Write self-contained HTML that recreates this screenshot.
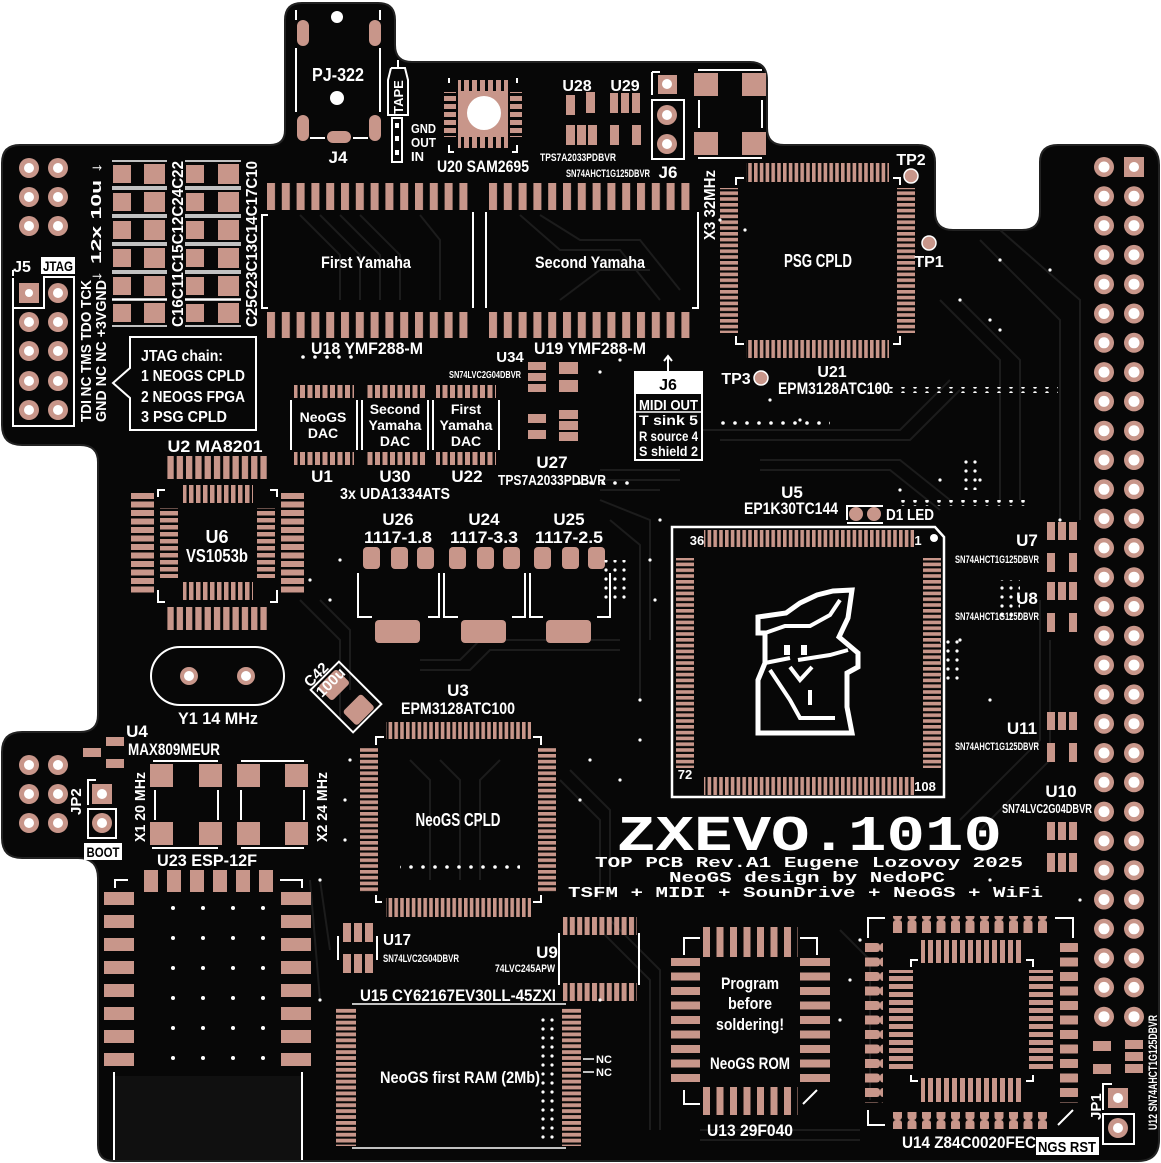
<!DOCTYPE html>
<html><head><meta charset="utf-8"><style>
html,body{margin:0;padding:0;background:#fff;}
svg{display:block;}
.t{fill:#fff;font-family:"Liberation Sans Narrow","Liberation Sans",sans-serif;font-weight:bold;}
.k{fill:#000;font-family:"Liberation Sans Narrow","Liberation Sans",sans-serif;font-weight:bold;}
.m{fill:#fff;font-family:"Liberation Mono","DejaVu Sans Mono",monospace;font-weight:bold;}
.cu{fill:#c8968a;}
.sl{stroke:#fff;stroke-width:2;fill:none;}
.tr{stroke:#1c1c1c;stroke-width:2;fill:none;}
</style></head><body>
<svg width="1161" height="1163" viewBox="0 0 1161 1163" xmlns="http://www.w3.org/2000/svg">
<defs>
<pattern id="vY" width="14.8" height="40" patternUnits="userSpaceOnUse" x="267"><rect width="8" height="40" fill="#c8968a"/></pattern>
<pattern id="vQ" width="5.8" height="40" patternUnits="userSpaceOnUse"><rect width="3.6" height="40" fill="#c8968a"/></pattern>
<pattern id="hQ" width="40" height="5.8" patternUnits="userSpaceOnUse"><rect width="40" height="3.6" fill="#c8968a"/></pattern>
<pattern id="vD" width="7.5" height="40" patternUnits="userSpaceOnUse"><rect width="5" height="40" fill="#c8968a"/></pattern>
<pattern id="vM" width="9.3" height="40" patternUnits="userSpaceOnUse"><rect width="6.3" height="40" fill="#c8968a"/></pattern>
<pattern id="vV" width="7" height="40" patternUnits="userSpaceOnUse"><rect width="4.5" height="40" fill="#c8968a"/></pattern>
<pattern id="hV" width="40" height="7" patternUnits="userSpaceOnUse"><rect width="40" height="4.5" fill="#c8968a"/></pattern>
<pattern id="hO" width="40" height="8.5" patternUnits="userSpaceOnUse"><rect width="40" height="6" fill="#c8968a"/></pattern>
<pattern id="hR" width="40" height="5.9" patternUnits="userSpaceOnUse"><rect width="40" height="3.8" fill="#c8968a"/></pattern>
<pattern id="vU" width="7.4" height="40" patternUnits="userSpaceOnUse"><rect width="5" height="40" fill="#c8968a"/></pattern>
<pattern id="vP" width="13.5" height="40" patternUnits="userSpaceOnUse" x="703"><rect width="7" height="40" fill="#c8968a"/></pattern>
<pattern id="hP" width="40" height="14.5" patternUnits="userSpaceOnUse" y="958"><rect width="40" height="8" fill="#c8968a"/></pattern>
<pattern id="vZ" width="14.5" height="40" patternUnits="userSpaceOnUse" x="893"><rect width="9" height="40" rx="3" fill="#c8968a"/></pattern>
<pattern id="hZ" width="40" height="14.5" patternUnits="userSpaceOnUse" y="943"><rect width="40" height="9" rx="3" fill="#c8968a"/></pattern>
<pattern id="vI" width="8" height="40" patternUnits="userSpaceOnUse"><rect width="5" height="40" fill="#c8968a"/></pattern>
<pattern id="hI" width="40" height="8" patternUnits="userSpaceOnUse"><rect width="40" height="5" fill="#c8968a"/></pattern>
<pattern id="grid" width="30" height="30" patternUnits="userSpaceOnUse" x="140" y="905"><circle cx="3" cy="3" r="2" fill="#fff"/></pattern>
<pattern id="dotH" width="12" height="6" patternUnits="userSpaceOnUse"><circle cx="3" cy="3" r="1.8" fill="#fff"/></pattern>
<pattern id="dotD" width="9" height="9" patternUnits="userSpaceOnUse"><circle cx="3" cy="3" r="1.6" fill="#fff"/></pattern>
</defs>

<!-- board -->
<path d="M2,163 Q2,145 20,145 L270,145 Q285,145 285,130 L285,20 Q285,3 302,3 L378,3 Q395,3 395,20 L395,45 Q395,62 412,62 L750,62 Q767,62 767,80 L767,128 Q767,145 784,145 L918,145 Q935,145 935,162 L935,212 Q935,230 953,230 L1022,230 Q1040,230 1040,212 L1040,162 Q1040,145 1058,145 L1140,145 Q1159,145 1159,165 L1159,1140 Q1159,1161 1138,1161 L114,1161 Q98,1161 98,1145 L98,878 Q98,858 78,858 L22,858 Q2,858 2,838 L2,752 Q2,732 22,732 L80,732 Q98,732 98,715 L98,462 Q98,445 80,445 L22,445 Q2,445 2,425 Z" fill="#070707" stroke="#222" stroke-width="2"/>

<!-- trace texture -->
<g class="tr">
<path d="M300,215 L340,255 L340,300 M320,215 L360,255 L360,300 M340,215 L380,255 L380,300 M360,215 L400,255 L400,300 M420,215 L440,240 L440,300"/>
<path d="M520,215 L560,250 L620,250 L660,300 M540,215 L580,240 L640,240 L680,290 M560,300 L600,270 L650,270"/>
<path d="M940,300 L1000,360 L1000,500 M960,300 L1020,360 L1020,500 M980,240 L1060,320 L1060,520 M1000,230 L1080,300 L1080,520"/>
<path d="M600,470 L680,470 M600,480 L680,480 M600,490 L660,490 M600,500 L650,520 L650,640 M610,520 L640,545 L640,700"/>
<path d="M300,600 L340,640 L340,720 M320,600 L350,630 L350,690 M420,660 L460,660 L480,640 L620,640 M420,670 L470,670 L490,650 L620,650"/>
<path d="M560,780 L600,820 L600,900 M570,770 L610,810 L610,900 M410,760 L430,780 L430,880 M440,760 L460,780 L460,880 M500,760 L480,780 L480,880"/>
<path d="M600,930 L650,980 L650,1130 M610,920 L660,970 L660,1130 M840,930 L870,960 L870,1100 M700,1130 L860,1130 M700,1140 L860,1140"/>
<path d="M960,820 L1040,740 L1040,600 M980,830 L1050,760 L1050,640 M950,380 L900,430 L660,430 M960,390 L910,440 L720,440"/>
<path d="M320,880 L330,950 M310,880 L320,1000 M760,460 L900,460 L950,500 M760,470 L890,470 L940,510"/>
</g>

<!-- ===== J4 jack ===== -->
<rect x="297" y="20" width="12" height="26" rx="6" class="cu"/>
<rect x="369" y="20" width="12" height="26" rx="6" class="cu"/>
<rect x="297" y="115" width="12" height="26" rx="6" class="cu"/>
<rect x="369" y="115" width="12" height="26" rx="6" class="cu"/>
<rect x="327" y="131" width="24" height="12" rx="6" class="cu"/>
<circle cx="337" cy="17" r="6" fill="#fff"/>
<circle cx="337" cy="98" r="7" fill="#fff"/>
<path class="sl" d="M296,10 L296,20 M380,10 L380,20 M296,48 L296,112 M380,48 L380,112 M310,138 L325,138 M353,138 L368,138"/>
<text class="t" x="338" y="81" font-size="18" text-anchor="middle" textLength="52" lengthAdjust="spacingAndGlyphs">PJ-322</text>
<text class="t" x="338" y="163" font-size="17" text-anchor="middle">J4</text>
<!-- TAPE -->
<path class="sl" d="M398,60 L398,68 M391,68 L405,68 L408,80 L408,115 L388,115 L388,80 L391,68"/>
<text class="t" x="0" y="0" font-size="13" text-anchor="middle" transform="translate(403,97) rotate(-90)">TAPE</text>
<rect x="392" y="118" width="10" height="44" fill="none" stroke="#fff" stroke-width="2"/>
<rect x="395" y="123" width="4" height="5" fill="#fff"/><rect x="395" y="136" width="4" height="5" fill="#fff"/><rect x="395" y="150" width="4" height="5" fill="#fff"/>
<text class="t" x="411" y="133" font-size="13" textLength="25" lengthAdjust="spacingAndGlyphs">GND</text>
<text class="t" x="411" y="147" font-size="13" textLength="25" lengthAdjust="spacingAndGlyphs">OUT</text>
<text class="t" x="411" y="161" font-size="13">IN</text>

<!-- U20 SAM2695 -->
<rect x="458" y="80" width="50" height="12" fill="url(#vI)"/>
<rect x="458" y="136" width="50" height="12" fill="url(#vI)"/>
<rect x="444" y="92" width="12" height="45" fill="url(#hI)"/>
<rect x="510" y="92" width="12" height="45" fill="url(#hI)"/>
<rect x="458" y="91" width="50" height="46" class="cu"/>
<circle cx="484" cy="113" r="17" fill="#fff"/>
<path class="sl" d="M449,78 L449,83 M517,78 L517,83 M449,145 L449,152 L454,152 M517,145 L517,152 L512,152"/>
<text class="t" x="483" y="172" font-size="17" text-anchor="middle" textLength="92" lengthAdjust="spacingAndGlyphs">U20 SAM2695</text>

<!-- U28 U29 -->
<text class="t" x="577" y="91" font-size="16" text-anchor="middle">U28</text>
<text class="t" x="625" y="91" font-size="16" text-anchor="middle">U29</text>
<rect x="566" y="95" width="9" height="20" class="cu"/><rect x="586" y="92" width="9" height="21" class="cu"/>
<rect x="566" y="125" width="9" height="20" class="cu"/><rect x="577" y="125" width="9" height="20" class="cu"/><rect x="588" y="125" width="9" height="20" class="cu"/>
<rect x="610" y="93" width="8" height="20" class="cu"/><rect x="621" y="93" width="8" height="20" class="cu"/><rect x="632" y="93" width="8" height="20" class="cu"/>
<rect x="610" y="125" width="9" height="20" class="cu"/><rect x="632" y="125" width="9" height="20" class="cu"/>
<text class="t" x="578" y="161" font-size="11" text-anchor="middle" textLength="76" lengthAdjust="spacingAndGlyphs">TPS7A2033PDBVR</text>
<text class="t" x="608" y="177" font-size="11" text-anchor="middle" textLength="84" lengthAdjust="spacingAndGlyphs">SN74AHCT1G125DBVR</text>

<!-- J6 pins -->
<rect x="658" y="75" width="19" height="19" class="cu"/><circle cx="667" cy="84" r="5" fill="#fff"/>
<circle cx="667" cy="115" r="10" class="cu"/><circle cx="667" cy="115" r="5" fill="#fff"/>
<circle cx="667" cy="144" r="10" class="cu"/><circle cx="667" cy="144" r="5" fill="#fff"/>
<rect x="652" y="100" width="32" height="59" class="sl"/>
<path class="sl" d="M652,72 L652,95 M652,72 L660,72"/>
<text class="t" x="668" y="178" font-size="17" text-anchor="middle">J6</text>
<!-- crystal-like -->
<rect x="694" y="73" width="24" height="23" class="cu"/><rect x="742" y="73" width="24" height="23" class="cu"/>
<rect x="694" y="132" width="24" height="23" class="cu"/><rect x="742" y="132" width="24" height="23" class="cu"/>
<path class="sl" d="M698,70 L762,70 M698,158 L762,158 M699,100 L699,128 M762,100 L762,128"/>

<!-- left header top -->
<g>
<circle cx="29" cy="168" r="10" class="cu"/><circle cx="58" cy="168" r="10" class="cu"/>
<circle cx="29" cy="197" r="10" class="cu"/><circle cx="58" cy="197" r="10" class="cu"/>
<circle cx="29" cy="226" r="10" class="cu"/><circle cx="58" cy="226" r="10" class="cu"/>
<rect x="19" y="283" width="20" height="20" class="cu"/><circle cx="58" cy="293" r="10" class="cu"/>
<circle cx="29" cy="322" r="10" class="cu"/><circle cx="58" cy="322" r="10" class="cu"/>
<circle cx="29" cy="351" r="10" class="cu"/><circle cx="58" cy="351" r="10" class="cu"/>
<circle cx="29" cy="381" r="10" class="cu"/><circle cx="58" cy="381" r="10" class="cu"/>
<circle cx="29" cy="410" r="10" class="cu"/><circle cx="58" cy="410" r="10" class="cu"/>
</g>
<g fill="#fff">
<circle cx="29" cy="168" r="5"/><circle cx="58" cy="168" r="5"/><circle cx="29" cy="197" r="5"/><circle cx="58" cy="197" r="5"/><circle cx="29" cy="226" r="5"/><circle cx="58" cy="226" r="5"/>
<circle cx="29" cy="293" r="4"/><circle cx="58" cy="293" r="5"/><circle cx="29" cy="322" r="5"/><circle cx="58" cy="322" r="5"/><circle cx="29" cy="351" r="5"/><circle cx="58" cy="351" r="5"/><circle cx="29" cy="381" r="5"/><circle cx="58" cy="381" r="5"/><circle cx="29" cy="410" r="5"/><circle cx="58" cy="410" r="5"/>
</g>
<path class="sl" d="M13,278 L13,426 L74,426 L74,277 L44,277 L44,308 L13,308"/>
<path class="sl" d="M13,276 L13,270"/>
<text class="t" x="22" y="272" font-size="16" text-anchor="middle">J5</text>
<rect x="41" y="257" width="34" height="17" fill="#fff"/>
<text class="k" x="58" y="271" font-size="14" text-anchor="middle" textLength="30" lengthAdjust="spacingAndGlyphs">JTAG</text>
<text class="t" font-size="15" transform="translate(91,422) rotate(-90)" textLength="142" lengthAdjust="spacingAndGlyphs">TDI  NC  TMS TDO TCK</text>
<text class="t" font-size="15" transform="translate(106,422) rotate(-90)" textLength="142" lengthAdjust="spacingAndGlyphs">GND NC  NC  +3VGND</text>
<text class="t" font-size="15" transform="translate(101,282) rotate(-90)" textLength="120" lengthAdjust="spacingAndGlyphs">↓  12x  10u  ↓</text>

<!-- capacitors -->
<g>
<rect x="113" y="165" width="18" height="18" class="cu"/><rect x="144" y="164" width="21" height="20" class="cu"/>
<rect x="113" y="193" width="18" height="18" class="cu"/><rect x="144" y="192" width="21" height="20" class="cu"/>
<rect x="113" y="221" width="18" height="18" class="cu"/><rect x="144" y="220" width="21" height="20" class="cu"/>
<rect x="113" y="249" width="18" height="18" class="cu"/><rect x="144" y="248" width="21" height="20" class="cu"/>
<rect x="113" y="277" width="18" height="18" class="cu"/><rect x="144" y="276" width="21" height="20" class="cu"/>
<rect x="113" y="304" width="18" height="18" class="cu"/><rect x="144" y="303" width="21" height="20" class="cu"/>
<rect x="186" y="165" width="18" height="18" class="cu"/><rect x="218" y="164" width="21" height="20" class="cu"/>
<rect x="186" y="193" width="18" height="18" class="cu"/><rect x="218" y="192" width="21" height="20" class="cu"/>
<rect x="186" y="221" width="18" height="18" class="cu"/><rect x="218" y="220" width="21" height="20" class="cu"/>
<rect x="186" y="249" width="18" height="18" class="cu"/><rect x="218" y="248" width="21" height="20" class="cu"/>
<rect x="186" y="277" width="18" height="18" class="cu"/><rect x="218" y="276" width="21" height="20" class="cu"/>
<rect x="186" y="304" width="18" height="18" class="cu"/><rect x="218" y="303" width="21" height="20" class="cu"/>
</g>
<g stroke="#fff" stroke-width="1.5">
<path d="M112,161 L167,161 M112,187 L167,187 M112,189 L167,189 M112,215 L167,215 M112,217 L167,217 M112,243 L167,243 M112,245 L167,245 M112,271 L167,271 M112,273 L167,273 M112,299 L167,299 M112,300 L167,300 M112,326 L167,326"/>
<path d="M185,161 L241,161 M185,187 L241,187 M185,189 L241,189 M185,215 L241,215 M185,217 L241,217 M185,243 L241,243 M185,245 L241,245 M185,271 L241,271 M185,273 L241,273 M185,299 L241,299 M185,300 L241,300 M185,326 L241,326"/>
</g>
<text class="t" font-size="16" transform="translate(183,327) rotate(-90)" textLength="166" lengthAdjust="spacingAndGlyphs">C16C11C15C12C24C22</text>
<text class="t" font-size="16" transform="translate(257,327) rotate(-90)" textLength="166" lengthAdjust="spacingAndGlyphs">C25C23C13C14C17C10</text>

<!-- JTAG chain box -->
<path class="sl" d="M130,337 L256,337 L256,430 L130,430 L130,398 L113,383 L130,368 Z"/>
<text class="t" x="141" y="361" font-size="16" textLength="82" lengthAdjust="spacingAndGlyphs">JTAG chain:</text>
<text class="t" x="141" y="381" font-size="16" textLength="104" lengthAdjust="spacingAndGlyphs">1 NEOGS CPLD</text>
<text class="t" x="141" y="402" font-size="16" textLength="104" lengthAdjust="spacingAndGlyphs">2 NEOGS FPGA</text>
<text class="t" x="141" y="422" font-size="16" textLength="86" lengthAdjust="spacingAndGlyphs">3 PSG CPLD</text>

<!-- Yamaha -->
<rect x="267" y="183" width="205" height="27" fill="url(#vY)"/>
<rect x="267" y="312" width="205" height="26" fill="url(#vY)"/>
<rect x="489" y="183" width="205" height="27" fill="url(#vY)"/>
<rect x="489" y="312" width="205" height="26" fill="url(#vY)"/>
<path class="sl" d="M268,215 L262,215 L262,308 L268,308 M473,212 L473,308 M486,212 L486,308 M698,212 L698,308 L692,308" stroke-width="1.5"/>
<text class="t" x="366" y="268" font-size="17" text-anchor="middle" textLength="90" lengthAdjust="spacingAndGlyphs">First Yamaha</text>
<text class="t" x="590" y="268" font-size="17" text-anchor="middle" textLength="110" lengthAdjust="spacingAndGlyphs">Second Yamaha</text>
<text class="t" x="367" y="354" font-size="17" text-anchor="middle" textLength="112" lengthAdjust="spacingAndGlyphs">U18  YMF288-M</text>
<text class="t" x="590" y="354" font-size="17" text-anchor="middle" textLength="112" lengthAdjust="spacingAndGlyphs">U19  YMF288-M</text>
<text class="t" font-size="16" transform="translate(715,240) rotate(-90)" textLength="70" lengthAdjust="spacingAndGlyphs">X3 32MHz</text>

<!-- U21 PSG CPLD -->
<rect x="746" y="163" width="143" height="19" fill="url(#vQ)"/>
<rect x="746" y="340" width="143" height="18" fill="url(#vQ)"/>
<rect x="720" y="188" width="18" height="145" fill="url(#hQ)"/>
<rect x="897" y="188" width="18" height="145" fill="url(#hQ)"/>
<path class="sl" d="M736,185 L736,178 L744,178 M893,178 L900,178 L900,185 M736,336 L736,344 L744,344 M893,344 L900,344 L900,336" stroke-width="1.5"/>
<text class="t" x="818" y="267" font-size="18" text-anchor="middle" textLength="68" lengthAdjust="spacingAndGlyphs">PSG CPLD</text>
<circle cx="911" cy="176" r="7" class="cu" stroke="#fff" stroke-width="1.5"/>
<text class="t" x="911" y="165" font-size="16" text-anchor="middle">TP2</text>
<circle cx="929" cy="243" r="7" class="cu" stroke="#fff" stroke-width="1.5"/>
<text class="t" x="929" y="267" font-size="16" text-anchor="middle">TP1</text>
<circle cx="761" cy="378" r="7" class="cu" stroke="#fff" stroke-width="1.5"/>
<text class="t" x="736" y="384" font-size="16" text-anchor="middle">TP3</text>
<text class="t" x="832" y="377" font-size="16" text-anchor="middle">U21</text>
<text class="t" x="834" y="394" font-size="17" text-anchor="middle" textLength="112" lengthAdjust="spacingAndGlyphs">EPM3128ATC100</text>

<!-- J6 MIDI box -->
<path class="sl" d="M668,372 L668,356 M664,361 L668,356 L672,361" stroke-width="1.5"/>
<rect x="635" y="372" width="67" height="88" fill="#070707" stroke="#fff" stroke-width="2"/>
<rect x="635" y="372" width="67" height="22" fill="#fff"/>
<text class="k" x="668" y="390" font-size="16" text-anchor="middle">J6</text>
<text class="t" x="639" y="410" font-size="15" textLength="59" lengthAdjust="spacingAndGlyphs">MIDI OUT</text>
<path d="M636,412 L701,412" stroke="#fff" stroke-width="1.5"/>
<text class="t" x="639" y="425" font-size="14" textLength="59" lengthAdjust="spacingAndGlyphs">T sink  5</text>
<text class="t" x="639" y="441" font-size="14" textLength="59" lengthAdjust="spacingAndGlyphs">R source 4</text>
<text class="t" x="639" y="456" font-size="14" textLength="59" lengthAdjust="spacingAndGlyphs">S shield 2</text>

<!-- U34 U27 -->
<text class="t" x="510" y="362" font-size="15" text-anchor="middle">U34</text>
<text class="t" x="485" y="378" font-size="10" text-anchor="middle" textLength="72" lengthAdjust="spacingAndGlyphs">SN74LVC2G04DBVR</text>
<rect x="528" y="362" width="18" height="8" class="cu"/><rect x="528" y="373" width="18" height="8" class="cu"/><rect x="528" y="384" width="18" height="8" class="cu"/>
<rect x="559" y="362" width="19" height="12" class="cu"/><rect x="559" y="380" width="19" height="12" class="cu"/>
<rect x="528" y="414" width="18" height="9" class="cu"/><rect x="528" y="430" width="18" height="9" class="cu"/>
<rect x="559" y="410" width="19" height="9" class="cu"/><rect x="559" y="421" width="19" height="9" class="cu"/><rect x="559" y="432" width="19" height="9" class="cu"/>
<text class="t" x="552" y="468" font-size="17" text-anchor="middle">U27</text>
<text class="t" x="552" y="485" font-size="15" text-anchor="middle" textLength="108" lengthAdjust="spacingAndGlyphs">TPS7A2033PDBVR</text>

<!-- DACs -->
<rect x="294" y="385" width="60" height="13" fill="url(#vD)"/>
<rect x="294" y="452" width="60" height="13" fill="url(#vD)"/>
<rect x="365" y="385" width="60" height="13" fill="url(#vD)"/>
<rect x="365" y="452" width="60" height="13" fill="url(#vD)"/>
<rect x="436" y="385" width="60" height="13" fill="url(#vD)"/>
<rect x="436" y="452" width="60" height="13" fill="url(#vD)"/>
<path class="sl" stroke-width="1.5" d="M291,400 L291,450 M357,400 L357,450 M362,400 L362,450 M428,400 L428,450 M433,400 L433,450 M499,400 L499,450"/>
<text class="t" x="323" y="422" font-size="14" text-anchor="middle">NeoGS</text>
<text class="t" x="323" y="438" font-size="14" text-anchor="middle">DAC</text>
<text class="t" x="395" y="414" font-size="14" text-anchor="middle">Second</text>
<text class="t" x="395" y="430" font-size="14" text-anchor="middle">Yamaha</text>
<text class="t" x="395" y="446" font-size="14" text-anchor="middle">DAC</text>
<text class="t" x="466" y="414" font-size="14" text-anchor="middle">First</text>
<text class="t" x="466" y="430" font-size="14" text-anchor="middle">Yamaha</text>
<text class="t" x="466" y="446" font-size="14" text-anchor="middle">DAC</text>
<text class="t" x="322" y="482" font-size="17" text-anchor="middle">U1</text>
<text class="t" x="395" y="482" font-size="17" text-anchor="middle">U30</text>
<text class="t" x="467" y="482" font-size="17" text-anchor="middle">U22</text>
<text class="t" x="395" y="499" font-size="16" text-anchor="middle" textLength="110" lengthAdjust="spacingAndGlyphs">3x UDA1334ATS</text>

<!-- U2 / U6 -->
<text class="t" x="215" y="452" font-size="17" text-anchor="middle" textLength="95" lengthAdjust="spacingAndGlyphs">U2  MA8201</text>
<rect x="167" y="456" width="102" height="23" fill="url(#vM)"/>
<rect x="167" y="607" width="102" height="23" fill="url(#vM)"/>
<rect x="183" y="485" width="70" height="18" fill="url(#vV)"/>
<rect x="183" y="582" width="70" height="18" fill="url(#vV)"/>
<rect x="160" y="508" width="18" height="70" fill="url(#hV)"/>
<rect x="257" y="508" width="18" height="70" fill="url(#hV)"/>
<rect x="131" y="492" width="23" height="102" fill="url(#hO)"/>
<rect x="281" y="492" width="23" height="102" fill="url(#hO)"/>
<path class="sl" stroke-width="1.5" d="M158,497 L158,490 L165,490 M270,490 L277,490 L277,497 M158,590 L158,602 L165,602 M270,602 L277,602 L277,590"/>
<text class="t" x="217" y="543" font-size="18" text-anchor="middle">U6</text>
<text class="t" x="217" y="562" font-size="18" text-anchor="middle" textLength="62" lengthAdjust="spacingAndGlyphs">VS1053b</text>

<!-- regulators -->
<g>
<text class="t" x="398" y="525" font-size="17" text-anchor="middle">U26</text>
<text class="t" x="484" y="525" font-size="17" text-anchor="middle">U24</text>
<text class="t" x="569" y="525" font-size="17" text-anchor="middle">U25</text>
<text class="t" x="398" y="543" font-size="17" text-anchor="middle" textLength="68" lengthAdjust="spacingAndGlyphs">1117-1.8</text>
<text class="t" x="484" y="543" font-size="17" text-anchor="middle" textLength="68" lengthAdjust="spacingAndGlyphs">1117-3.3</text>
<text class="t" x="569" y="543" font-size="17" text-anchor="middle" textLength="68" lengthAdjust="spacingAndGlyphs">1117-2.5</text>
<rect x="363" y="547" width="17" height="22" rx="4" class="cu"/><rect x="391" y="547" width="17" height="22" rx="4" class="cu"/><rect x="417" y="547" width="17" height="22" rx="4" class="cu"/>
<rect x="449" y="547" width="17" height="22" rx="4" class="cu"/><rect x="477" y="547" width="17" height="22" rx="4" class="cu"/><rect x="503" y="547" width="17" height="22" rx="4" class="cu"/>
<rect x="534" y="547" width="17" height="22" rx="4" class="cu"/><rect x="562" y="547" width="17" height="22" rx="4" class="cu"/><rect x="588" y="547" width="17" height="22" rx="4" class="cu"/>
<rect x="375" y="620" width="45" height="23" rx="4" class="cu"/>
<rect x="461" y="620" width="45" height="23" rx="4" class="cu"/>
<rect x="546" y="620" width="45" height="23" rx="4" class="cu"/>
<path class="sl" stroke-width="1.5" d="M358,573 L358,617 L372,617 M439,573 L439,617 L428,617 M444,573 L444,617 L458,617 M525,573 L525,617 L512,617 M530,573 L530,617 L543,617 M610,573 L610,617 L597,617"/>
</g>

<!-- Y1 -->
<rect x="151" y="647" width="133" height="58" rx="29" class="sl"/>
<circle cx="189" cy="676" r="9" class="cu"/><circle cx="189" cy="676" r="5" fill="#fff"/>
<circle cx="246" cy="676" r="9" class="cu"/><circle cx="246" cy="676" r="5" fill="#fff"/>
<text class="t" x="218" y="724" font-size="17" text-anchor="middle" textLength="80" lengthAdjust="spacingAndGlyphs">Y1  14 MHz</text>
<!-- C42 -->
<g transform="translate(346,697) rotate(-45)">
<rect x="-20" y="-30" width="40" height="60" class="sl"/>
<rect x="-13" y="-27" width="26" height="20" rx="3" class="cu"/>
<rect x="-13" y="8" width="26" height="20" rx="3" class="cu"/>
</g>
<text class="t" font-size="15" transform="translate(310,688) rotate(-45)">C42</text>
<text class="t" font-size="15" transform="translate(322,698) rotate(-45)">100u</text>

<!-- U4 -->
<text class="t" x="137" y="737" font-size="17" text-anchor="middle">U4</text>
<text class="t" x="128" y="755" font-size="17" textLength="92" lengthAdjust="spacingAndGlyphs">MAX809MEUR</text>
<rect x="106" y="737" width="18" height="9" class="cu"/><rect x="83" y="748" width="18" height="9" class="cu"/><rect x="106" y="759" width="18" height="9" class="cu"/>

<!-- lower-left header -->
<circle cx="29" cy="765" r="10" class="cu"/><circle cx="58" cy="765" r="10" class="cu"/>
<circle cx="29" cy="794" r="10" class="cu"/><circle cx="58" cy="794" r="10" class="cu"/>
<circle cx="29" cy="823" r="10" class="cu"/><circle cx="58" cy="823" r="10" class="cu"/>
<g fill="#fff"><circle cx="29" cy="765" r="5"/><circle cx="58" cy="765" r="5"/><circle cx="29" cy="794" r="5"/><circle cx="58" cy="794" r="5"/><circle cx="29" cy="823" r="5"/><circle cx="58" cy="823" r="5"/></g>
<rect x="92" y="784" width="20" height="20" class="cu"/><circle cx="102" cy="794" r="5" fill="#fff"/>
<circle cx="102" cy="823" r="10" class="cu"/><circle cx="102" cy="823" r="5" fill="#fff"/>
<rect x="88" y="809" width="28" height="29" class="sl"/>
<path class="sl" d="M88,805 L88,780 L96,780"/>
<text class="t" font-size="15" transform="translate(81,815) rotate(-90)">JP2</text>
<rect x="84" y="843" width="38" height="17" fill="#fff"/>
<text class="k" x="103" y="857" font-size="14" text-anchor="middle" textLength="33" lengthAdjust="spacingAndGlyphs">BOOT</text>

<!-- X1 X2 -->
<rect x="150" y="764" width="23" height="23" class="cu"/><rect x="199" y="764" width="23" height="23" class="cu"/>
<rect x="237" y="764" width="23" height="23" class="cu"/><rect x="285" y="764" width="23" height="23" class="cu"/>
<rect x="150" y="822" width="23" height="23" class="cu"/><rect x="199" y="822" width="23" height="23" class="cu"/>
<rect x="237" y="822" width="23" height="23" class="cu"/><rect x="285" y="822" width="23" height="23" class="cu"/>
<path class="sl" stroke-width="1.5" d="M153,761 L218,761 M241,761 L304,761 M155,790 L155,820 M218,790 L218,820 M241,790 L241,820 M304,790 L304,820 M152,848 L218,848 M241,848 L304,848"/>
<text class="t" font-size="15" transform="translate(145,842) rotate(-90)" textLength="70" lengthAdjust="spacingAndGlyphs">X1  20 MHz</text>
<text class="t" font-size="15" transform="translate(327,842) rotate(-90)" textLength="70" lengthAdjust="spacingAndGlyphs">X2  24 MHz</text>

<!-- ESP-12F -->
<text class="t" x="207" y="866" font-size="17" text-anchor="middle" textLength="100" lengthAdjust="spacingAndGlyphs">U23  ESP-12F</text>
<g class="cu">
<rect x="144" y="870" width="14" height="22"/><rect x="167" y="870" width="14" height="22"/><rect x="190" y="870" width="14" height="22"/><rect x="213" y="870" width="14" height="22"/><rect x="236" y="870" width="14" height="22"/><rect x="259" y="870" width="14" height="22"/>
<rect x="104" y="892" width="30" height="13"/><rect x="104" y="915" width="30" height="13"/><rect x="104" y="938" width="30" height="13"/><rect x="104" y="961" width="30" height="13"/><rect x="104" y="984" width="30" height="13"/><rect x="104" y="1007" width="30" height="13"/><rect x="104" y="1030" width="30" height="13"/><rect x="104" y="1053" width="30" height="13"/>
<rect x="281" y="892" width="30" height="13"/><rect x="281" y="915" width="30" height="13"/><rect x="281" y="938" width="30" height="13"/><rect x="281" y="961" width="30" height="13"/><rect x="281" y="984" width="30" height="13"/><rect x="281" y="1007" width="30" height="13"/><rect x="281" y="1030" width="30" height="13"/><rect x="281" y="1053" width="30" height="13"/>
</g>
<rect x="155" y="905" width="125" height="155" fill="url(#grid)"/>
<path class="sl" d="M115,888 L115,880 L128,880 M280,880 L302,880 L302,888"/>
<rect x="114" y="1076" width="188" height="84" fill="#101010"/>
<path class="sl" d="M114,1072 L114,1160 M302,1072 L302,1160"/>

<!-- U3 NeoGS CPLD -->
<text class="t" x="458" y="696" font-size="17" text-anchor="middle">U3</text>
<text class="t" x="458" y="714" font-size="17" text-anchor="middle" textLength="114" lengthAdjust="spacingAndGlyphs">EPM3128ATC100</text>
<rect x="386" y="722" width="145" height="17" fill="url(#vQ)"/>
<rect x="386" y="898" width="145" height="19" fill="url(#vQ)"/>
<rect x="360" y="748" width="18" height="145" fill="url(#hQ)"/>
<rect x="538" y="748" width="18" height="145" fill="url(#hQ)"/>
<path class="sl" stroke-width="1.5" d="M376,745 L376,737 L384,737 M533,737 L541,737 L541,745 M376,895 L376,902 L382,902 M533,902 L541,902 L541,895"/>
<text class="t" x="458" y="826" font-size="18" text-anchor="middle" textLength="85" lengthAdjust="spacingAndGlyphs">NeoGS CPLD</text>
<rect x="400" y="865" width="120" height="6" fill="url(#dotH)"/>

<!-- U17 -->
<rect x="343" y="923" width="8" height="19" class="cu"/><rect x="354" y="923" width="8" height="19" class="cu"/><rect x="365" y="923" width="8" height="19" class="cu"/>
<rect x="343" y="954" width="8" height="19" class="cu"/><rect x="354" y="954" width="8" height="19" class="cu"/><rect x="365" y="954" width="8" height="19" class="cu"/>
<path class="sl" stroke-width="1.5" d="M338,936 L338,960 M377,936 L377,960"/>
<text class="t" x="383" y="945" font-size="16" textLength="28" lengthAdjust="spacingAndGlyphs">U17</text>
<text class="t" x="383" y="962" font-size="11" textLength="76" lengthAdjust="spacingAndGlyphs">SN74LVC2G04DBVR</text>
<!-- U9 -->
<rect x="563" y="917" width="74" height="18" fill="url(#vU)"/>
<rect x="563" y="983" width="74" height="18" fill="url(#vU)"/>
<path class="sl" stroke-width="1.5" d="M559,933 L559,985 M639,933 L639,985"/>
<text class="t" x="547" y="958" font-size="17" text-anchor="middle">U9</text>
<text class="t" x="525" y="972" font-size="11" text-anchor="middle" textLength="60" lengthAdjust="spacingAndGlyphs">74LVC245APW</text>
<!-- U15 RAM -->
<text class="t" x="458" y="1001" font-size="17" text-anchor="middle" textLength="196" lengthAdjust="spacingAndGlyphs">U15 CY62167EV30LL-45ZXI</text>
<path d="M352,1004 L566,1004 M352,1148 L566,1148" stroke="#fff" stroke-width="1.5"/>
<rect x="336" y="1008" width="20" height="138" fill="url(#hR)"/>
<rect x="562" y="1008" width="19" height="138" fill="url(#hR)"/>
<text class="t" x="460" y="1083" font-size="17" text-anchor="middle" textLength="160" lengthAdjust="spacingAndGlyphs">NeoGS first RAM (2Mb)</text>
<text class="t" x="596" y="1063" font-size="11">NC</text>
<text class="t" x="596" y="1076" font-size="11">NC</text>
<path d="M583,1059 L594,1059 M583,1072 L594,1072" stroke="#fff" stroke-width="1.5"/>
<rect x="540" y="1015" width="14" height="125" fill="url(#dotD)"/>

<!-- U5 FPGA -->
<text class="t" x="792" y="498" font-size="17" text-anchor="middle">U5</text>
<text class="t" x="791" y="514" font-size="17" text-anchor="middle" textLength="94" lengthAdjust="spacingAndGlyphs">EP1K30TC144</text>
<circle cx="856" cy="514" r="7" class="cu"/><circle cx="874" cy="514" r="7" class="cu"/>
<path class="sl" stroke-width="1.5" d="M847,520 L847,506 L883,506 M847,523 L883,523"/>
<text class="t" x="886" y="520" font-size="16" textLength="48" lengthAdjust="spacingAndGlyphs">D1 LED</text>
<path d="M672,527 L935,527 L944,537 L944,797 L672,797 Z" fill="none" stroke="#fff" stroke-width="2.5"/>
<rect x="704" y="530" width="210" height="17" fill="url(#vQ)"/>
<rect x="704" y="777" width="210" height="18" fill="url(#vQ)"/>
<rect x="676" y="558" width="18" height="210" fill="url(#hQ)"/>
<rect x="923" y="558" width="18" height="210" fill="url(#hQ)"/>
<circle cx="934" cy="538" r="4" fill="#fff"/>
<text class="t" x="697" y="545" font-size="13" text-anchor="middle">36</text>
<text class="t" x="918" y="545" font-size="13" text-anchor="middle">1</text>
<text class="t" x="685" y="779" font-size="13" text-anchor="middle">72</text>
<text class="t" x="925" y="791" font-size="13" text-anchor="middle">108</text>
<!-- wizard -->
<path d="M758,617 L786,613 L800,603 L817,595 L833,591 L852,590 L848,618 L839,637 L858,653 L858,667 L847,673 L847,707 L852,733 L758,733 L758,680 L765,663 L765,633 L758,633 Z" fill="none" stroke="#fff" stroke-width="5" stroke-linejoin="miter"/>
<path d="M765,633 L785,626 L810,626 L830,615 L840,600 M765,663 L790,658 M798,660 L830,655 L848,650 M770,670 L790,700 L800,718 L835,718 M810,690 L810,705 M790,667 L800,680 L812,667" fill="none" stroke="#fff" stroke-width="4"/>
<rect x="784" y="645" width="6" height="10" fill="#fff"/><rect x="801" y="645" width="6" height="10" fill="#fff"/>

<!-- right side small ICs -->
<g class="cu">
<rect x="1047" y="522" width="8" height="18"/><rect x="1058" y="522" width="8" height="18"/><rect x="1069" y="522" width="8" height="18"/><rect x="1047" y="553" width="8" height="19"/><rect x="1069" y="553" width="8" height="19"/>
<rect x="1047" y="582" width="8" height="18"/><rect x="1058" y="582" width="8" height="18"/><rect x="1069" y="582" width="8" height="18"/><rect x="1047" y="613" width="8" height="19"/><rect x="1069" y="613" width="8" height="19"/>
<rect x="1047" y="712" width="8" height="18"/><rect x="1058" y="712" width="8" height="18"/><rect x="1069" y="712" width="8" height="18"/><rect x="1047" y="743" width="8" height="19"/><rect x="1069" y="743" width="8" height="19"/>
<rect x="1047" y="822" width="8" height="18"/><rect x="1058" y="822" width="8" height="18"/><rect x="1069" y="822" width="8" height="18"/><rect x="1047" y="853" width="8" height="19"/><rect x="1058" y="853" width="8" height="19"/><rect x="1069" y="853" width="8" height="19"/>
</g>
<text class="t" x="1027" y="546" font-size="17" text-anchor="middle">U7</text>
<text class="t" x="997" y="563" font-size="11" text-anchor="middle" textLength="84" lengthAdjust="spacingAndGlyphs">SN74AHCT1G125DBVR</text>
<text class="t" x="1027" y="604" font-size="17" text-anchor="middle">U8</text>
<text class="t" x="997" y="620" font-size="11" text-anchor="middle" textLength="84" lengthAdjust="spacingAndGlyphs">SN74AHCT1G125DBVR</text>
<text class="t" x="1022" y="734" font-size="17" text-anchor="middle">U11</text>
<text class="t" x="997" y="750" font-size="11" text-anchor="middle" textLength="84" lengthAdjust="spacingAndGlyphs">SN74AHCT1G125DBVR</text>
<text class="t" x="1061" y="797" font-size="17" text-anchor="middle">U10</text>
<text class="t" x="1047" y="813" font-size="13" text-anchor="middle" textLength="90" lengthAdjust="spacingAndGlyphs">SN74LVC2G04DBVR</text>

<!-- title -->
<text class="m" x="617" y="850" font-size="50" textLength="385" lengthAdjust="spacingAndGlyphs">ZXEVO.1010</text>
<text class="m" x="595" y="867" font-size="15" textLength="428" lengthAdjust="spacingAndGlyphs">TOP PCB Rev.A1 Eugene Lozovoy 2025</text>
<text class="m" x="669" y="882" font-size="15" textLength="276" lengthAdjust="spacingAndGlyphs">NeoGS design by NedoPC</text>
<text class="m" x="568" y="897" font-size="15" textLength="475" lengthAdjust="spacingAndGlyphs">TSFM + MIDI + SounDrive + NeoGS + WiFi</text>

<!-- U13 ROM -->
<rect x="703" y="927" width="95" height="30" fill="url(#vP)"/>
<rect x="703" y="1087" width="95" height="28" fill="url(#vP)"/>
<rect x="671" y="958" width="29" height="128" fill="url(#hP)"/>
<rect x="800" y="958" width="30" height="128" fill="url(#hP)"/>
<path class="sl" stroke-width="1.5" d="M684,955 L684,938 L700,938 M800,938 L817,938 L817,955 M684,1090 L684,1104 L700,1104 M803,1104 L817,1090"/>
<text class="t" x="750" y="989" font-size="17" text-anchor="middle" textLength="58" lengthAdjust="spacingAndGlyphs">Program</text>
<text class="t" x="750" y="1009" font-size="17" text-anchor="middle" textLength="44" lengthAdjust="spacingAndGlyphs">before</text>
<text class="t" x="750" y="1030" font-size="17" text-anchor="middle" textLength="68" lengthAdjust="spacingAndGlyphs">soldering!</text>
<text class="t" x="750" y="1069" font-size="17" text-anchor="middle" textLength="80" lengthAdjust="spacingAndGlyphs">NeoGS ROM</text>
<text class="t" x="750" y="1136" font-size="17" text-anchor="middle" textLength="86" lengthAdjust="spacingAndGlyphs">U13 29F040</text>

<!-- U14 Z80 -->
<rect x="893" y="916" width="158" height="17" fill="url(#vZ)"/>
<rect x="893" y="1112" width="158" height="17" fill="url(#vZ)"/>
<rect x="865" y="943" width="18" height="160" fill="url(#hZ)"/>
<rect x="1060" y="943" width="18" height="160" fill="url(#hZ)"/>
<rect x="921" y="940" width="102" height="23" fill="url(#vI)"/>
<rect x="921" y="1078" width="102" height="24" fill="url(#vI)"/>
<rect x="889" y="970" width="24" height="102" fill="url(#hI)"/>
<rect x="1029" y="970" width="24" height="102" fill="url(#hI)"/>
<path class="sl" stroke-width="1.5" d="M868,938 L868,918 L885,918 M1055,918 L1073,918 L1073,938 M868,1110 L868,1125 L885,1125 M1058,1125 L1073,1110 M911,967 L911,960 L918,960 M1026,960 L1033,960 L1033,967 M911,1075 L911,1081 L918,1081 M1026,1081 L1033,1081 L1033,1075"/>
<text class="t" x="969" y="1148" font-size="17" text-anchor="middle" textLength="134" lengthAdjust="spacingAndGlyphs">U14 Z84C0020FEC</text>
<rect x="1036" y="1137" width="63" height="18" fill="#fff"/>
<text class="k" x="1067" y="1152" font-size="15" text-anchor="middle" textLength="58" lengthAdjust="spacingAndGlyphs">NGS RST</text>

<!-- JP1 / U12 -->
<rect x="1108" y="1088" width="20" height="20" class="cu"/><circle cx="1118" cy="1098" r="5" fill="#fff"/>
<circle cx="1118" cy="1128" r="10" class="cu"/><circle cx="1118" cy="1128" r="5" fill="#fff"/>
<rect x="1103" y="1114" width="31" height="30" class="sl"/>
<path class="sl" d="M1103,1110 L1103,1084 L1112,1084"/>
<text class="t" font-size="15" transform="translate(1101,1120) rotate(-90)">JP1</text>
<rect x="1093" y="1041" width="18" height="10" class="cu"/><rect x="1093" y="1064" width="18" height="10" class="cu"/>
<rect x="1125" y="1040" width="18" height="9" class="cu"/><rect x="1125" y="1052" width="18" height="9" class="cu"/><rect x="1125" y="1064" width="18" height="9" class="cu"/>
<text class="t" font-size="12" transform="translate(1157,1130) rotate(-90)" textLength="115" lengthAdjust="spacingAndGlyphs">U12 SN74AHCT1G125DBVR</text>

<!-- right header -->
<rect x="1124" y="157" width="20" height="20" class="cu"/>
<g class="cu">
<circle cx="1104" cy="167" r="10"/>
<circle cx="1104" cy="196.3" r="10"/><circle cx="1134" cy="196.3" r="10"/>
<circle cx="1104" cy="225.6" r="10"/><circle cx="1134" cy="225.6" r="10"/>
<circle cx="1104" cy="254.9" r="10"/><circle cx="1134" cy="254.9" r="10"/>
<circle cx="1104" cy="284.2" r="10"/><circle cx="1134" cy="284.2" r="10"/>
<circle cx="1104" cy="313.5" r="10"/><circle cx="1134" cy="313.5" r="10"/>
<circle cx="1104" cy="342.8" r="10"/><circle cx="1134" cy="342.8" r="10"/>
<circle cx="1104" cy="372.1" r="10"/><circle cx="1134" cy="372.1" r="10"/>
<circle cx="1104" cy="401.4" r="10"/><circle cx="1134" cy="401.4" r="10"/>
<circle cx="1104" cy="430.7" r="10"/><circle cx="1134" cy="430.7" r="10"/>
<circle cx="1104" cy="460" r="10"/><circle cx="1134" cy="460" r="10"/>
<circle cx="1104" cy="489.3" r="10"/><circle cx="1134" cy="489.3" r="10"/>
<circle cx="1104" cy="518.6" r="10"/><circle cx="1134" cy="518.6" r="10"/>
<circle cx="1104" cy="547.9" r="10"/><circle cx="1134" cy="547.9" r="10"/>
<circle cx="1104" cy="577.2" r="10"/><circle cx="1134" cy="577.2" r="10"/>
<circle cx="1104" cy="606.5" r="10"/><circle cx="1134" cy="606.5" r="10"/>
<circle cx="1104" cy="635.8" r="10"/><circle cx="1134" cy="635.8" r="10"/>
<circle cx="1104" cy="665.1" r="10"/><circle cx="1134" cy="665.1" r="10"/>
<circle cx="1104" cy="694.4" r="10"/><circle cx="1134" cy="694.4" r="10"/>
<circle cx="1104" cy="723.7" r="10"/><circle cx="1134" cy="723.7" r="10"/>
<circle cx="1104" cy="753" r="10"/><circle cx="1134" cy="753" r="10"/>
<circle cx="1104" cy="782.3" r="10"/><circle cx="1134" cy="782.3" r="10"/>
<circle cx="1104" cy="811.6" r="10"/><circle cx="1134" cy="811.6" r="10"/>
<circle cx="1104" cy="840.9" r="10"/><circle cx="1134" cy="840.9" r="10"/>
<circle cx="1104" cy="870.2" r="10"/><circle cx="1134" cy="870.2" r="10"/>
<circle cx="1104" cy="899.5" r="10"/><circle cx="1134" cy="899.5" r="10"/>
<circle cx="1104" cy="928.8" r="10"/><circle cx="1134" cy="928.8" r="10"/>
<circle cx="1104" cy="958.1" r="10"/><circle cx="1134" cy="958.1" r="10"/>
<circle cx="1104" cy="987.4" r="10"/><circle cx="1134" cy="987.4" r="10"/>
<circle cx="1104" cy="1016.7" r="10"/><circle cx="1134" cy="1016.7" r="10"/>
</g>
<g fill="#fff">
<circle cx="1104" cy="167" r="5.5"/><circle cx="1134" cy="167" r="5"/>
<circle cx="1104" cy="196.3" r="5.5"/><circle cx="1134" cy="196.3" r="5.5"/>
<circle cx="1104" cy="225.6" r="5.5"/><circle cx="1134" cy="225.6" r="5.5"/>
<circle cx="1104" cy="254.9" r="5.5"/><circle cx="1134" cy="254.9" r="5.5"/>
<circle cx="1104" cy="284.2" r="5.5"/><circle cx="1134" cy="284.2" r="5.5"/>
<circle cx="1104" cy="313.5" r="5.5"/><circle cx="1134" cy="313.5" r="5.5"/>
<circle cx="1104" cy="342.8" r="5.5"/><circle cx="1134" cy="342.8" r="5.5"/>
<circle cx="1104" cy="372.1" r="5.5"/><circle cx="1134" cy="372.1" r="5.5"/>
<circle cx="1104" cy="401.4" r="5.5"/><circle cx="1134" cy="401.4" r="5.5"/>
<circle cx="1104" cy="430.7" r="5.5"/><circle cx="1134" cy="430.7" r="5.5"/>
<circle cx="1104" cy="460" r="5.5"/><circle cx="1134" cy="460" r="5.5"/>
<circle cx="1104" cy="489.3" r="5.5"/><circle cx="1134" cy="489.3" r="5.5"/>
<circle cx="1104" cy="518.6" r="5.5"/><circle cx="1134" cy="518.6" r="5.5"/>
<circle cx="1104" cy="547.9" r="5.5"/><circle cx="1134" cy="547.9" r="5.5"/>
<circle cx="1104" cy="577.2" r="5.5"/><circle cx="1134" cy="577.2" r="5.5"/>
<circle cx="1104" cy="606.5" r="5.5"/><circle cx="1134" cy="606.5" r="5.5"/>
<circle cx="1104" cy="635.8" r="5.5"/><circle cx="1134" cy="635.8" r="5.5"/>
<circle cx="1104" cy="665.1" r="5.5"/><circle cx="1134" cy="665.1" r="5.5"/>
<circle cx="1104" cy="694.4" r="5.5"/><circle cx="1134" cy="694.4" r="5.5"/>
<circle cx="1104" cy="723.7" r="5.5"/><circle cx="1134" cy="723.7" r="5.5"/>
<circle cx="1104" cy="753" r="5.5"/><circle cx="1134" cy="753" r="5.5"/>
<circle cx="1104" cy="782.3" r="5.5"/><circle cx="1134" cy="782.3" r="5.5"/>
<circle cx="1104" cy="811.6" r="5.5"/><circle cx="1134" cy="811.6" r="5.5"/>
<circle cx="1104" cy="840.9" r="5.5"/><circle cx="1134" cy="840.9" r="5.5"/>
<circle cx="1104" cy="870.2" r="5.5"/><circle cx="1134" cy="870.2" r="5.5"/>
<circle cx="1104" cy="899.5" r="5.5"/><circle cx="1134" cy="899.5" r="5.5"/>
<circle cx="1104" cy="928.8" r="5.5"/><circle cx="1134" cy="928.8" r="5.5"/>
<circle cx="1104" cy="958.1" r="5.5"/><circle cx="1134" cy="958.1" r="5.5"/>
<circle cx="1104" cy="987.4" r="5.5"/><circle cx="1134" cy="987.4" r="5.5"/>
<circle cx="1104" cy="1016.7" r="5.5"/><circle cx="1134" cy="1016.7" r="5.5"/>
</g>

<!-- via rows -->
<rect x="868" y="387" width="190" height="6" fill="url(#dotH)"/>
<rect x="298" y="355" width="60" height="6" fill="url(#dotH)"/>
<rect x="10" y="532" width="0" height="0" fill="none"/>
<rect x="575" y="480" width="60" height="6" fill="url(#dotH)"/>
<rect x="900" y="500" width="130" height="6" fill="url(#dotH)"/>
<rect x="720" y="420" width="110" height="6" fill="url(#dotH)"/>
<rect x="960" y="460" width="18" height="30" fill="url(#dotD)"/>
<rect x="1000" y="580" width="20" height="40" fill="url(#dotD)"/>
<rect x="600" y="560" width="30" height="40" fill="url(#dotD)"/>
<rect x="940" y="640" width="20" height="40" fill="url(#dotD)"/>
<g fill="#fff">
<circle cx="620" cy="360" r="1.6"/><circle cx="600" cy="372" r="1.6"/><circle cx="640" cy="700" r="1.6"/><circle cx="660" cy="520" r="1.6"/><circle cx="650" cy="560" r="1.6"/><circle cx="655" cy="600" r="1.6"/>
<circle cx="960" cy="300" r="1.6"/><circle cx="990" cy="320" r="1.6"/><circle cx="1050" cy="270" r="1.6"/><circle cx="1000" cy="330" r="1.6"/><circle cx="960" cy="640" r="1.6"/><circle cx="990" cy="700" r="1.6"/>
<circle cx="620" cy="780" r="1.6"/><circle cx="640" cy="740" r="1.6"/><circle cx="860" cy="940" r="1.6"/><circle cx="850" cy="980" r="1.6"/><circle cx="840" cy="1020" r="1.6"/>
<circle cx="340" cy="560" r="1.6"/><circle cx="330" cy="600" r="1.6"/><circle cx="320" cy="880" r="1.6"/><circle cx="320" cy="1000" r="1.6"/><circle cx="600" cy="1000" r="1.6"/>
<circle cx="770" cy="400" r="1.6"/><circle cx="800" cy="420" r="1.6"/><circle cx="900" cy="490" r="1.6"/><circle cx="940" cy="480" r="1.6"/><circle cx="980" cy="480" r="1.6"/>
<circle cx="310" cy="580" r="1.6"/><circle cx="350" cy="760" r="1.6"/><circle cx="345" cy="800" r="1.6"/><circle cx="345" cy="840" r="1.6"/><circle cx="580" cy="800" r="1.6"/><circle cx="590" cy="760" r="1.6"/>
<circle cx="720" cy="220" r="1.6"/><circle cx="745" cy="230" r="1.6"/><circle cx="1000" cy="260" r="1.6"/><circle cx="1060" cy="520" r="1.6"/><circle cx="990" cy="880" r="1.6"/><circle cx="1080" cy="900" r="1.6"/>
</g>
</svg>
</body></html>
